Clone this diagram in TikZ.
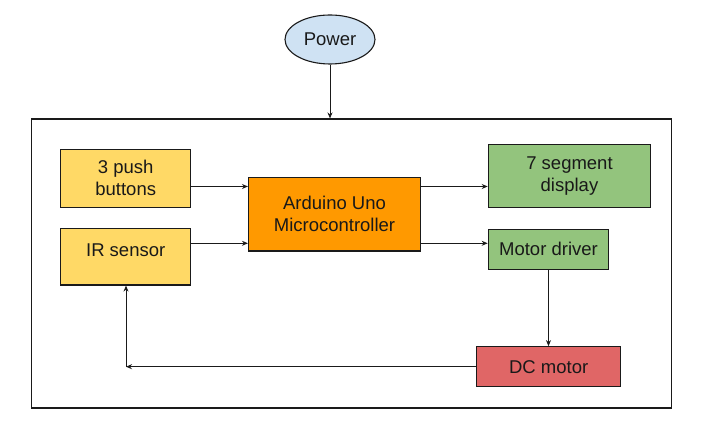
\documentclass[tikz,border=0pt]{standalone}
\usepackage{fontspec}
\setmainfont{Liberation Sans}
\usetikzlibrary{arrows.meta,shapes.geometric}
\definecolor{pw}{HTML}{CFE2F3}
\definecolor{yel}{HTML}{FFD966}
\definecolor{org}{HTML}{FF9900}
\definecolor{grn}{HTML}{93C47D}
\definecolor{rd}{HTML}{E06666}
\definecolor{ln}{HTML}{1A1A1A}
\tikzset{
  blk/.style={draw=ln, line width=1.1pt, rectangle, inner sep=0pt, align=center,
    font=\fontsize{18.5}{22}\selectfont, text=black!90},
  arr/.style={draw=ln, line width=1pt, -{Stealth[length=6pt,width=5pt]}},
}
\begin{document}
\begin{tikzpicture}[x=1pt,y=-1pt]
\useasboundingbox (0,0) rectangle (705,427);
\fill[white] (0,0) rectangle (705,427);
% system frame
\node[draw=ln, line width=1.1pt, rectangle, inner sep=0pt, minimum width=640pt, minimum height=289pt] (sys) at (351.5,263.5) {};
% power
\node[ellipse, draw=ln, line width=1.1pt, fill=pw, inner sep=0pt, minimum width=90pt, minimum height=49pt,
  font=\fontsize{18.5}{22}\selectfont, text=black!90] (pow) at (330,39.5) {Power};
% blocks
\node[blk, fill=yel, minimum width=130pt, minimum height=58pt] (push) at (125.7,178.3) {3 push\\buttons};
\node[blk, fill=yel, minimum width=130pt, text height=27.7pt, text depth=29pt] (ir) at (125.7,256.7) {IR sensor};
\node[blk, fill=org, minimum width=172pt, minimum height=73.7pt] (ard) at (334.5,214.2) {Arduino Uno\\Microcontroller};
\node[blk, fill=grn, minimum width=162.5pt, minimum height=63pt] (seg) at (569.5,175.8) {7 segment\\display};
\node[blk, fill=grn, minimum width=120.5pt, minimum height=40pt] (md) at (548.5,249.3) {Motor driver};
\node[blk, fill=rd, minimum width=144pt, minimum height=40pt] (dc) at (548.7,366.7) {DC motor};
% level coordinates
\coordinate (r1) at (0,186.5);
\coordinate (r2) at (0,243.3);
\coordinate (corner) at (126,366.7);
% connectors
\draw[arr] (pow.south) -- (pow.south |- sys.north);
\draw[arr] (push.east |- r1) -- (ard.west |- r1);
\draw[arr] (ir.east |- r2) -- (ard.west |- r2);
\draw[arr] (ard.east |- r1) -- (seg.west |- r1);
\draw[arr] (ard.east |- r2) -- (md.west |- r2);
\draw[arr] (md.south) -- (md.south |- dc.north);
\draw[arr] (dc.west) -- (corner);
\draw[arr] (corner) -- (corner |- ir.south);
\end{tikzpicture}
\end{document}
